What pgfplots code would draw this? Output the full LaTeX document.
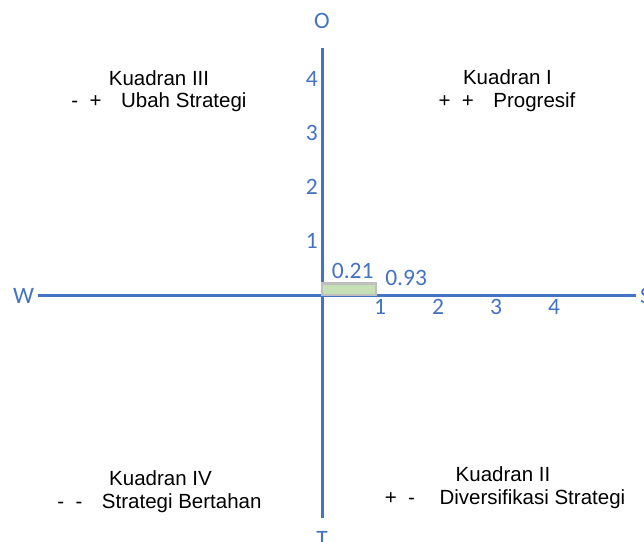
\documentclass[border=0pt]{standalone}
\usepackage{pgfplots}
\pgfplotsset{compat=1.18}
\usepackage{fontspec}
\setmainfont{Liberation Sans}
\newfontfamily\calfont{Carlito}
\definecolor{axblue}{HTML}{4472C4}
\definecolor{boxgreen}{HTML}{C5E0B4}
\definecolor{boxgray}{HTML}{BFBFBF}
\newcommand{\numfont}{\calfont\fontsize{23.5}{27}\selectfont}
\begin{document}
\begin{tikzpicture}
\useasboundingbox (-322pt,-246pt) rectangle (322pt,295pt);
\begin{axis}[
  anchor=origin, at={(0pt,0pt)},
  x=58pt, y=54pt,
  xmin=-4.9, xmax=5.41, ymin=-4.13, ymax=4.57,
  axis lines=middle,
  axis line style={-, draw=axblue, line width=3pt},
  xtick={1,2,3,4}, ytick={1,2,3,4},
  major tick length=0pt,
  tick style={draw=none},
  xticklabel style={font=\numfont, text=axblue, anchor=north, inner sep=0pt, yshift=-4pt},
  yticklabel style={font=\numfont, text=axblue, anchor=east, inner sep=0pt, xshift=-4pt},
  /pgf/number format/assume math mode=true,
  clip=false,
]
\addplot[draw=boxgray, line width=2.5pt, fill=boxgreen] coordinates {(0,0) (0.93,0) (0.93,0.21) (0,0.21)} -- cycle;
\node[font=\numfont, text=axblue, anchor=base, inner sep=0pt] at (axis cs:0.53,0.21) [yshift=5pt] {0.21};
\node[font=\numfont, text=axblue, anchor=base, inner sep=0pt] at (axis cs:1.45,0) [yshift=10pt] {0.93};
\end{axis}
% axis end labels
\begin{scope}[every node/.style={font=\numfont, text=axblue, inner sep=0pt}]
\node[anchor=base] at (0pt,266pt) {O};
\node[anchor=base] at (0pt,-251pt) {T};
\node[anchor=base] at (-298.5pt,-8pt) {W};
\node[anchor=base west] at (318pt,-8pt) {S};
\end{scope}
% quadrant texts
\begin{scope}[every node/.style={font=\fontsize{20.5}{24}\selectfont, text=black, inner sep=0pt, anchor=base}]
\node at (-163pt,209pt) {Kuadran III};
\node at (-163pt,187pt) {-\ \ +\hspace{0.95em}Ubah Strategi};
\node at (185.5pt,210pt) {Kuadran I};
\node at (185pt,187pt) {+\ \ +\hspace{0.95em}Progresif};
\node at (-161.5pt,-190pt) {Kuadran IV};
\node at (-162.5pt,-213pt) {-\ \ -\hspace{0.95em}Strategi Bertahan};
\node at (181pt,-186pt) {Kuadran II};
\node at (183pt,-209pt) {+\ \ -\hspace{1.2em}Diversifikasi Strategi};
\end{scope}
\end{tikzpicture}
\end{document}
